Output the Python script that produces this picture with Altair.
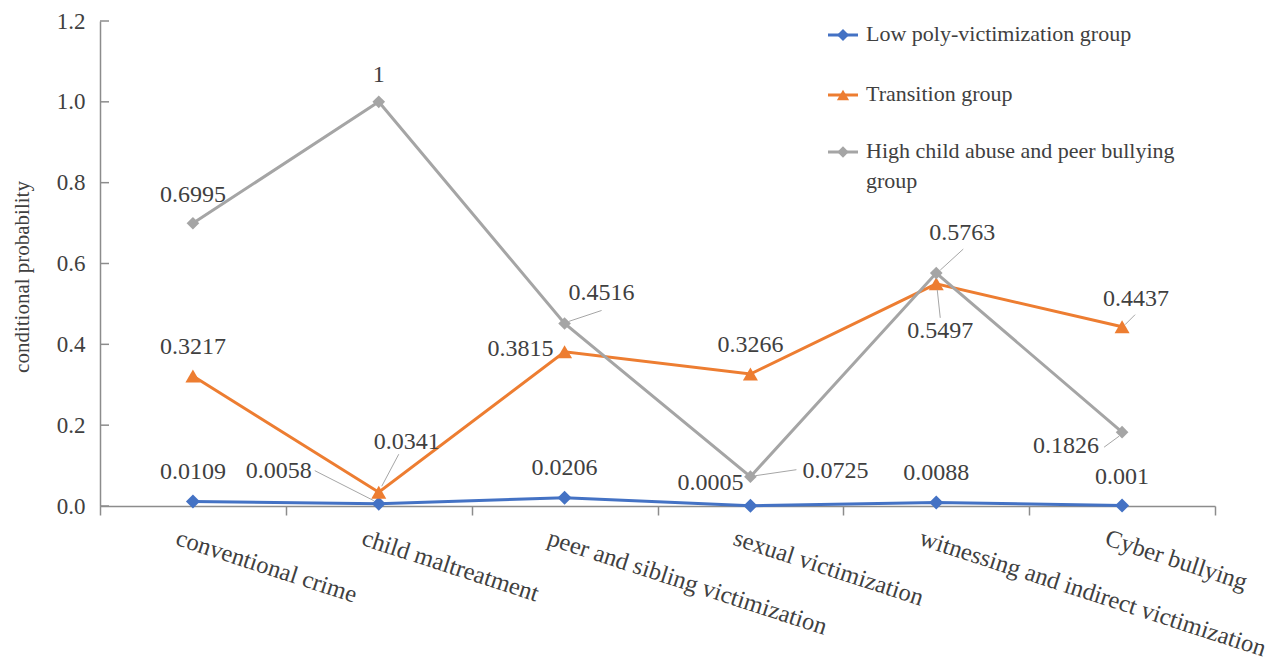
import json
import altair as alt
import pandas as pd

# ---------------- data ----------------
categories = ["conventional crime", "child maltreatment", "peer and sibling victimization",
              "sexual victimization", "witnessing and indirect victimization", "Cyber bullying"]
series_names = ["Low poly-victimization group", "Transition group",
                "High child abuse and peer bullying group"]
low = [0.0109, 0.0058, 0.0206, 0.0005, 0.0088, 0.001]
transition = [0.3217, 0.0341, 0.3815, 0.3266, 0.5497, 0.4437]
high = [0.6995, 1, 0.4516, 0.0725, 0.5763, 0.1826]
y_ticks = [0, 0.2, 0.4, 0.6, 0.8, 1.0, 1.2]

# ---------------- style ----------------
W, H = 1115, 485
XU = W / 6.0          # px per category
YU = H / 1.2          # px per unit of probability
FONT = "'Liberation Serif', 'Times New Roman', 'DejaVu Serif', serif"
TXT = "#404040"
AXC = "#8c8c8c"
colors = ["#4472C4", "#ED7D31", "#A5A5A5"]
shapes = ["diamond", "triangle-up", "diamond"]
sizes = [196, 225, 160]
legend_sizes = [144, 150, 130]

# label placement (pixel offsets from the point: dx, dy)
label_px = [
    [(0, -30), (-100, -33), (0, -30), (-40, -23), (0, -29), (0, -29)],
    [(0, -29), (28, -50), (-44, -3), (0, -29), (4, 47), (14, -28)],
    [(0, -28), (0, -27), (37, -30), (85, -6), (26, -40), (-56, 14)],
]
# leader lines (pixel offsets from the point: x1, y1, x2, y2)
leader_px = [
    [None, (-64, -33, -5, -3), None, None, None, None],
    [None, (20, -38, 3, -6), None, None, (4, 34, 1, 6), (13, -12, 3, -2)],
    [None, None, (4, -2, 37, -13), (5, -1, 46, -7), (4, -3, 27, -24), (-18, 15, -3, 4)],
]

all_values = [low, transition, high]

rows, lab_rows, lead_rows = [], [], []
for s, (name, vals) in enumerate(zip(series_names, all_values)):
    for i, v in enumerate(vals):
        rows.append({"series": name, "idx": i, "value": v})
        dx, dy = label_px[s][i]
        lab_rows.append({"series": name, "tx": i + dx / XU, "ty": v - dy / YU, "label": str(v)})
        ld = leader_px[s][i]
        if ld is not None:
            x1, y1, x2, y2 = ld
            lead_rows.append({"lx1": i + x1 / XU, "ly1": v - y1 / YU,
                              "lx2": i + x2 / XU, "ly2": v - y2 / YU})

df = pd.DataFrame(rows)
df_lab = pd.DataFrame(lab_rows)
df_lead = pd.DataFrame(lead_rows)
df_ticks = pd.DataFrame({"t": y_ticks})

# ---------------- scales / axes ----------------
xscale = alt.Scale(domain=[-0.5, 5.5], nice=False, zero=False)
yscale = alt.Scale(domain=[0, 1.2], nice=False, zero=False)

label_expr = "datum.value % 1 === 0 ? " + json.dumps(categories) + "[datum.value] : ''"
xaxis = alt.Axis(
    values=[-0.5, 0, 0.5, 1, 1.5, 2, 2.5, 3, 3.5, 4, 4.5, 5, 5.5],
    labelExpr=label_expr, grid=False, title=None,
    tickSize=9, tickColor=AXC, tickWidth=1.5,
    tickOpacity={"condition": {"test": "datum.value % 1 !== 0", "value": 1}, "value": 0},
    domainColor=AXC, domainWidth=1.5,
    labelAngle=18, labelAlign="left", labelBaseline="top", labelOffset=-13, labelPadding=11,
    labelOverlap=False, labelFlush=False, labelLimit=1000,
    labelFont=FONT, labelFontSize=24.5, labelColor=TXT,
)
yaxis = alt.Axis(
    values=y_ticks, format=".1f", grid=False, ticks=False, tickSize=0,
    domainColor=AXC, domainWidth=1.5,
    labelPadding=15, labelFont=FONT, labelFontSize=23, labelColor=TXT,
    title="conditional probability", titleFont=FONT, titleFontSize=21,
    titleFontWeight="normal", titleColor=TXT, titleAngle=-90,
    titleX=-78, titleY=H / 2 + 13, titleAlign="center", titleBaseline="middle",
)


def X(field):
    return alt.X(field, type="quantitative", scale=xscale, axis=xaxis, title=None)


def Y(field):
    return alt.Y(field, type="quantitative", scale=yscale, axis=yaxis,
                 title="conditional probability")


layers = []

# inward y ticks
layers.append(
    alt.Chart(df_ticks).mark_rule(color=AXC, strokeWidth=1.5).encode(
        y=Y("t"), x=alt.value(0), x2=alt.value(9))
)

# series lines + markers
for s, name in enumerate(series_names):
    d = df[df.series == name]
    base = alt.Chart(d).encode(x=X("idx"), y=Y("value"), order="idx:Q")
    layers.append(base.mark_line(color=colors[s], strokeWidth=3))
    layers.append(base.mark_point(shape=shapes[s], size=sizes[s], filled=True,
                                  opacity=1, color=colors[s], strokeWidth=0))

# leader lines
layers.append(
    alt.Chart(df_lead).mark_rule(color="#A6A6A6", strokeWidth=1).encode(
        x=X("lx1"), y=Y("ly1"), x2="lx2:Q", y2="ly2:Q")
)

# data labels
layers.append(
    alt.Chart(df_lab).mark_text(font=FONT, fontSize=24, color=TXT,
                                align="center", baseline="middle").encode(
        x=X("tx"), y=Y("ty"), text="label:N")
)

# legend (drawn as marks in the top-right corner of the plot)
legend_rows = [14, 74, 131]
legend_text = ["Low poly-victimization group", "Transition group",
               "High child abuse and peer bullying\ngroup"]
for s, name in enumerate(series_names):
    d = pd.DataFrame({"series": [name], "label": [legend_text[s]]})
    yy = legend_rows[s]
    layers.append(alt.Chart(d).mark_rule(color=colors[s], strokeWidth=3).encode(
        x=alt.value(728), x2=alt.value(758), y=alt.value(yy)))
    layers.append(alt.Chart(d).mark_point(shape=shapes[s], size=legend_sizes[s], filled=True,
                                          opacity=1, color=colors[s], strokeWidth=0).encode(
        x=alt.value(743), y=alt.value(yy)))
    layers.append(alt.Chart(d).mark_text(font=FONT, fontSize=22, color=TXT, align="left",
                                         baseline="top", dy=-11, lineBreak="\n",
                                         lineHeight=30).encode(
        x=alt.value(766), y=alt.value(yy), text="label:N"))

chart = alt.layer(*layers).properties(
    width=W, height=H,
    padding={"left": 100, "top": 21, "right": 73, "bottom": 157},
    autosize=alt.AutoSizeParams(type="none"),
    background="white",
).configure_view(stroke=None)

chart.save("out.html", embed_options={"renderer": "svg", "actions": False})
